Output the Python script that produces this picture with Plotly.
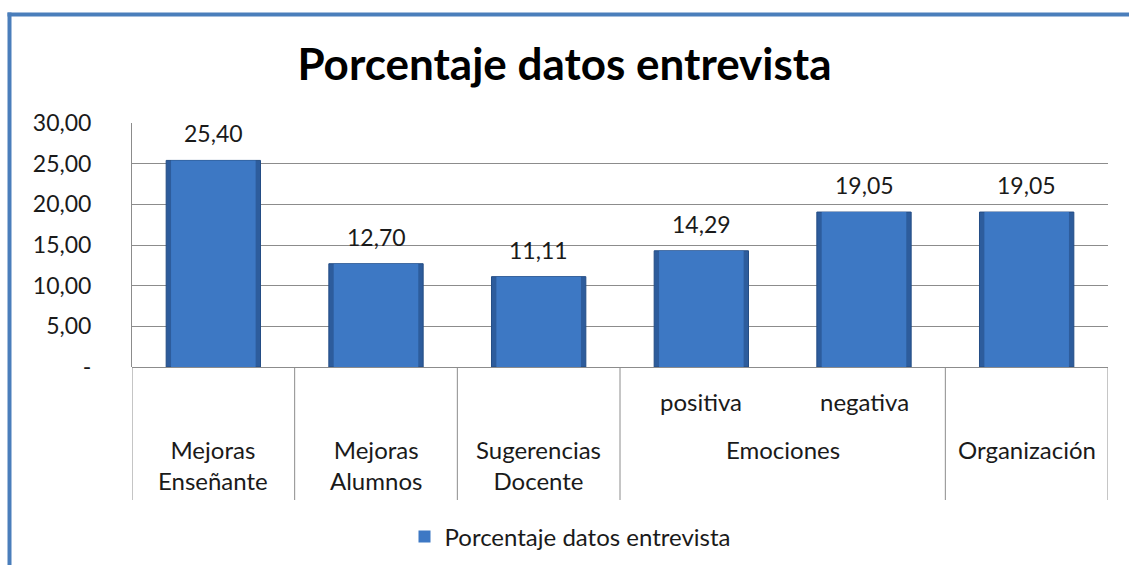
import plotly.graph_objects as go

# ---- data ----
values = [25.40, 12.70, 11.11, 14.29, 19.05, 19.05]
inner_labels = ["", "", "", "positiva", "negativa", ""]
outer_labels = ["Mejoras<br>Enseñante", "Mejoras<br>Alumnos", "Sugerencias<br>Docente", "Emociones", "Organización"]
outer_spans = [(0, 0), (1, 1), (2, 2), (3, 4), (5, 5)]
ytick_vals = [0, 5, 10, 15, 20, 25, 30]
ytick_text = ["-", "5,00", "10,00", "15,00", "20,00", "25,00", "30,00"]
series_name = "Porcentaje datos entrevista"
title_text = "Porcentaje datos entrevista"

W, H = 1129, 565
L, R, T, B = 132, 21, 123, 198
PW, PH = W - L - R, H - T - B


def px_x(p):
    return (p - L) / PW


def px_y(p):
    return (H - B - p) / PH


FONT = "Lato"
TXT = "#1a1a1a"
x_idx = list(range(len(values)))

fig = go.Figure()
# outer (darker bevel edge)
fig.add_trace(go.Bar(
    x=x_idx, y=values, name=series_name, width=0.58,
    marker=dict(color="#2d5c9c", line=dict(color="#244d85", width=1)),
    showlegend=False, hoverinfo="skip",
))
# inner (lighter face)
fig.add_trace(go.Bar(
    x=x_idx, y=values, name=series_name, width=0.52,
    marker=dict(color="#3d78c4", line=dict(width=0)),
    showlegend=True,
))

annotations = []
# value labels
for i, v in enumerate(values):
    annotations.append(dict(x=i, y=v, xref="x", yref="y", text=f"{v:.2f}".replace(".", ","),
                            showarrow=False, yanchor="middle", yshift=27,
                            font=dict(family=FONT, size=23, color=TXT)))
# inner labels
for i, lab in enumerate(inner_labels):
    if lab:
        annotations.append(dict(x=i, y=px_y(401), xref="x", yref="paper", text=lab,
                                showarrow=False, yanchor="middle",
                                font=dict(family=FONT, size=24, color=TXT)))
# outer labels
for lab, (a, b) in zip(outer_labels, outer_spans):
    annotations.append(dict(x=(a + b) / 2, y=px_y(433), xref="x", yref="paper", text=lab,
                            showarrow=False, yanchor="top",
                            font=dict(family=FONT, size=24, color=TXT)))

shapes = []
# dividers between outer groups
bounds = sorted(set([a - 0.5 for a, b in outer_spans] + [b + 0.5 for a, b in outer_spans]))
for bx in bounds:
    shapes.append(dict(type="line", xref="x", yref="paper", x0=bx, x1=bx,
                       y0=0, y1=px_y(500), line=dict(color="#8c8c8c", width=1)))
# frame border (left and top)
shapes.append(dict(type="line", xref="paper", yref="paper", x0=px_x(9.5), x1=px_x(9.5),
                   y0=px_y(12.5), y1=px_y(570), line=dict(color="#4a7ebb", width=4)))
shapes.append(dict(type="line", xref="paper", yref="paper", x0=px_x(7.5), x1=px_x(1135),
                   y0=px_y(14.5), y1=px_y(14.5), line=dict(color="#4a7ebb", width=4)))

fig.update_layout(
    width=W, height=H,
    margin=dict(l=L, r=R, t=T, b=B, pad=0, autoexpand=False),
    paper_bgcolor="white", plot_bgcolor="white",
    separators=",.",
    barmode="overlay",
    title=dict(text=title_text, x=0.5, xref="container", xanchor="center",
               y=1 - 65 / H, yanchor="middle", yref="container",
               font=dict(family=FONT, size=44, color="black", weight="bold")),
    xaxis=dict(range=[-0.5, len(values) - 0.5], showticklabels=False, showgrid=False,
               zeroline=False, showline=False, ticks=""),
    yaxis=dict(range=[0, 30], tickvals=ytick_vals, ticktext=ytick_text,
               showgrid=True, gridcolor="#8c8c8c", gridwidth=1,
               zeroline=True, zerolinecolor="#8c8c8c", zerolinewidth=1,
               showline=True, linecolor="#8c8c8c", linewidth=1,
               ticks="", ticklabelstandoff=35,
               tickfont=dict(family=FONT, size=23, color=TXT)),
    legend=dict(orientation="h", x=px_x(570), xanchor="center", y=px_y(537), yanchor="middle",
                font=dict(family=FONT, size=24, color=TXT), itemwidth=30),
    annotations=annotations,
    shapes=shapes,
)

fig.write_html("out.html", config={"displayModeBar": False},
               post_script="document.body.style.margin='0';document.body.style.padding='0';")
